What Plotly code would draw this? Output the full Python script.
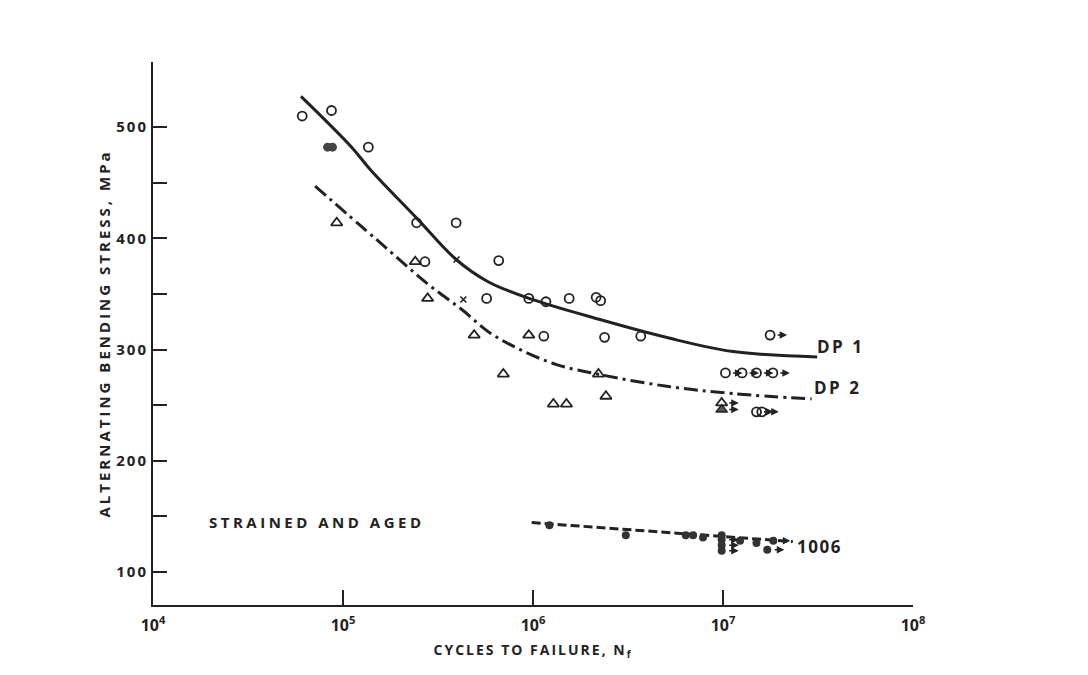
import math
import plotly.graph_objects as go

INK = "#222222"
FONT = "Open Sans"

# ---- data ----
# DP 1 (open circles)
dp1_x = [6.1e4, 8.7e4, 1.36e5, 2.44e5, 3.94e5, 2.7e5, 6.6e5, 5.7e5, 9.5e5,
         1.17e6, 1.55e6, 2.15e6, 2.27e6, 1.14e6, 2.38e6, 3.69e6]
dp1_y = [510, 515, 482, 414, 414, 379, 380, 346, 346, 343, 346, 347, 344, 312, 311, 312]
dp1_filled_x = [8.3e4, 8.8e4]
dp1_filled_y = [482, 482]
dp1_runout_x = [1.77e7, 1.03e7, 1.26e7, 1.5e7, 1.83e7, 1.5e7, 1.6e7]
dp1_runout_y = [313, 279, 279, 279, 279, 244, 244]

# DP 2 (open triangles)
dp2_x = [9.27e4, 2.4e5, 2.79e5, 4.9e5, 9.5e5, 6.98e5, 2.21e6, 1.28e6, 1.5e6, 2.42e6]
dp2_y = [414, 379, 346, 313, 313, 278, 278, 251, 251, 258]
dp2_runout_x = [9.84e6]
dp2_runout_y = [252]
dp2_filled_x = [9.84e6]
dp2_filled_y = [246]

# crosses
cross_x = [3.96e5, 4.3e5]
cross_y = [381, 345]

# 1006 strained and aged (filled dots)
s1006_x = [1.22e6, 3.08e6, 6.37e6, 6.96e6, 7.85e6, 9.84e6, 9.84e6, 9.84e6, 9.84e6,
           1.23e7, 1.5e7, 1.84e7, 1.71e7]
s1006_y = [142, 133, 133, 133, 131, 133, 129, 124, 119, 128, 126, 128, 120]
s1006_runout_x = [9.84e6, 9.84e6, 9.84e6, 1.84e7, 1.71e7]
s1006_runout_y = [129, 124, 119, 128, 120]

# fitted curves
dp1_curve_x = [6.01e4, 1.11e5, 1.39e5, 2.45e5, 3.94e5, 5.8e5, 9.53e5, 2.25e6, 5.07e6, 1.13e7, 3.13e7]
dp1_curve_y = [527.7, 482, 462, 418, 381, 361, 346, 327, 310.8, 298.2, 293.4]
dp2_curve_x = [7.13e4, 1.5e5, 2.81e5, 4.22e5, 5.94e5, 8.55e5, 1.33e6, 2.25e6, 5.06e6, 1.13e7, 2.93e7]
dp2_curve_y = [447, 399, 358.6, 336, 315, 300, 286.5, 277.5, 267, 260.4, 255.6]
c1006_x = [9.84e5, 2.33e7]
c1006_y = [144.4, 127.3]

# curve labels (text, cycles, stress)
label_text = ["DP 1", "DP 2", "1006", "STRAINED AND AGED"]
label_x = [3.05e7, 2.94e7, 2.39e7, 1.92e4]
label_y = [302.7, 265.8, 122.8, 145.3]
label_size = [17, 17, 17, 15]
label_spacing = [2.5, 2.5, 1.5, 3.5]

# axis ticks
x_tickvals = [1e4, 1e5, 1e6, 1e7, 1e8]
x_ticktext = ["10<sup>4</sup>", "10<sup>5</sup>", "10<sup>6</sup>", "10<sup>7</sup>", "10<sup>8</sup>"]
y_tickvals = [100, 150, 200, 250, 300, 350, 400, 450, 500]
y_ticktext = ["100", " ", "200", " ", "300", " ", "400", " ", "500"]


def spaced(t, px):
    return '<span style="letter-spacing:%spx">%s</span>' % (px, t)


fig = go.Figure()

fig.add_trace(go.Scatter(x=dp1_curve_x, y=dp1_curve_y, mode="lines",
                         line=dict(color=INK, width=3, shape="spline", smoothing=1.0)))
fig.add_trace(go.Scatter(x=dp2_curve_x, y=dp2_curve_y, mode="lines",
                         line=dict(color=INK, width=3, shape="spline", smoothing=1.0,
                                   dash="14px,5px,3px,5px")))
fig.add_trace(go.Scatter(x=c1006_x, y=c1006_y, mode="lines",
                         line=dict(color=INK, width=3, dash="9px,4px")))

circ = dict(symbol="circle-open", size=9, color=INK, line=dict(width=1.8, color=INK))
tri = dict(symbol="triangle-up-open", size=10, color=INK, line=dict(width=1.8, color=INK))

fig.add_trace(go.Scatter(x=dp1_x, y=dp1_y, mode="markers", marker=circ))
fig.add_trace(go.Scatter(x=dp1_runout_x, y=dp1_runout_y, mode="markers", marker=circ))
fig.add_trace(go.Scatter(x=dp1_filled_x, y=dp1_filled_y, mode="markers",
                         marker=dict(symbol="circle", size=9, color="#444444")))
fig.add_trace(go.Scatter(x=dp2_x, y=dp2_y, mode="markers", marker=tri))
fig.add_trace(go.Scatter(x=dp2_runout_x, y=dp2_runout_y, mode="markers", marker=tri))
fig.add_trace(go.Scatter(x=dp2_filled_x, y=dp2_filled_y, mode="markers",
                         marker=dict(symbol="triangle-up", size=10, color="#555555",
                                     line=dict(width=1.5, color=INK))))
fig.add_trace(go.Scatter(x=cross_x, y=cross_y, mode="markers",
                         marker=dict(symbol="x-thin", size=6, line=dict(width=1.6, color=INK))))
fig.add_trace(go.Scatter(x=s1006_x, y=s1006_y, mode="markers",
                         marker=dict(symbol="circle", size=8, color="#333333")))

annotations = []
for t, xv, yv, sz, sp in zip(label_text, label_x, label_y, label_size, label_spacing):
    annotations.append(dict(
        x=math.log10(xv), y=yv, xref="x", yref="y", showarrow=False,
        xanchor="left", yanchor="middle",
        text=spaced(t, sp),
        font=dict(family=FONT, size=sz, color=INK, weight="bold")))

# run-out arrows (pointing right from each run-out point)
arrow_pts = list(zip(dp1_runout_x, dp1_runout_y)) + \
    list(zip(dp2_runout_x + dp2_filled_x, dp2_runout_y + dp2_filled_y)) + \
    list(zip(s1006_runout_x, s1006_runout_y))
for xv, yv in arrow_pts:
    annotations.append(dict(x=math.log10(xv), y=yv, xref="x", yref="y", text="", showarrow=True,
                            arrowhead=2, arrowsize=1, arrowwidth=1.5, arrowcolor=INK,
                            ax=-11, ay=0, xshift=17))

fig.update_layout(
    width=1088, height=675,
    margin=dict(l=153, r=175, t=62, b=70),
    paper_bgcolor="white", plot_bgcolor="white",
    showlegend=False,
    annotations=annotations,
    font=dict(family=FONT, color=INK),
    xaxis=dict(type="log", range=[4, 8], showgrid=False, zeroline=False,
               showline=True, linewidth=2, linecolor=INK,
               ticks="inside", ticklen=15, tickwidth=2, tickcolor=INK,
               tickvals=x_tickvals, ticktext=x_ticktext, ticklabelstandoff=5,
               tickfont=dict(family=FONT, size=16, color=INK, weight="bold"),
               title=dict(text=spaced("CYCLES TO FAILURE, N<sub>f</sub>", 2),
                          font=dict(family=FONT, size=14, color=INK, weight="bold"), standoff=10)),
    yaxis=dict(range=[70.3, 558.6], showgrid=False, zeroline=False,
               showline=True, linewidth=2, linecolor=INK,
               ticks="inside", ticklen=14, tickwidth=2, tickcolor=INK,
               tickvals=y_tickvals, ticktext=[spaced(t, 2) for t in y_ticktext],
               tickfont=dict(family=FONT, size=15, color=INK, weight="bold"),
               title=dict(text=spaced("ALTERNATING BENDING STRESS, MPa", 3),
                          font=dict(family=FONT, size=15, color=INK, weight="bold"), standoff=2)),
)

fig.write_html("out.html")
